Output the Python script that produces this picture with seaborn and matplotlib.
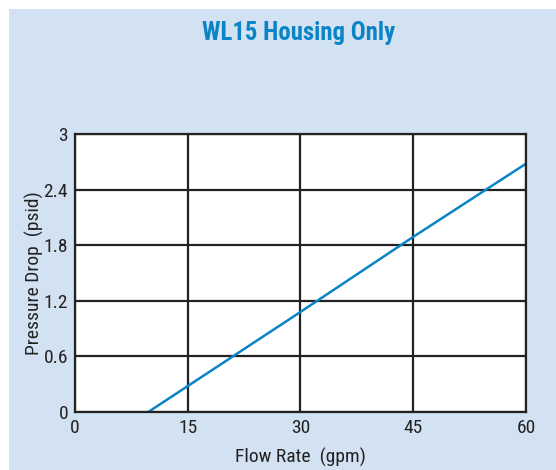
import pandas as pd
import seaborn as sns
import matplotlib.pyplot as plt
from matplotlib.patches import Rectangle

# values
flow_rate = [9.75, 15, 30, 45, 60]
pressure_drop = [0.0, 0.28, 1.08, 1.89, 2.68]
x_ticks = [0, 15, 30, 45, 60]
y_ticks = [0, 0.6, 1.2, 1.8, 2.4, 3]
y_tick_labels = ['0', '0.6', '1.2', '1.8', '2.4', '3']

df = pd.DataFrame({'Flow Rate': flow_rate, 'Pressure Drop': pressure_drop})

sns.set_style("white")
plt.rcParams['font.family'] = ['Roboto Condensed', 'DejaVu Sans']

bg = '#d3e2f2'
blue = '#0b84c6'
ink = '#222222'

fig = plt.figure(figsize=(5.56, 4.70), dpi=100)
fig.patch.set_facecolor('white')
fig.patches.append(Rectangle((9 / 556, 0), 1, (470 - 9) / 470, transform=fig.transFigure,
                             facecolor=bg, edgecolor='none', zorder=-1))

ax = fig.add_axes([75 / 556, 1 - 412 / 470, (526 - 75) / 556, (412 - 134) / 470])
sns.lineplot(x='Flow Rate', y='Pressure Drop', data=df, color=blue, linewidth=1.8, ax=ax)

ax.set_xlim(0, 60)
ax.set_ylim(0, 3)
ax.set_xticks(x_ticks)
ax.set_yticks(y_ticks)
ax.set_yticklabels(y_tick_labels)
ax.grid(True, color=ink, linewidth=1.6)
ax.set_axisbelow(True)
for s in ax.spines.values():
    s.set_color(ink)
    s.set_linewidth(1.6)
ax.tick_params(axis='both', direction='out', length=4, width=1.2, color=ink,
               labelsize=14, labelcolor=ink, pad=1)

ax.set_xlabel('Flow Rate  (gpm)', fontsize=14, color=ink, labelpad=8)
ax.set_ylabel('Pressure Drop  (psid)', fontsize=14, color=ink, labelpad=0)

fig.text(299 / 556, 1 - 33 / 470, 'WL15 Housing Only', ha='center', va='center',
         fontsize=17.8, fontweight='bold', color=blue)

plt.savefig('out.png', dpi=100, facecolor=fig.get_facecolor())
